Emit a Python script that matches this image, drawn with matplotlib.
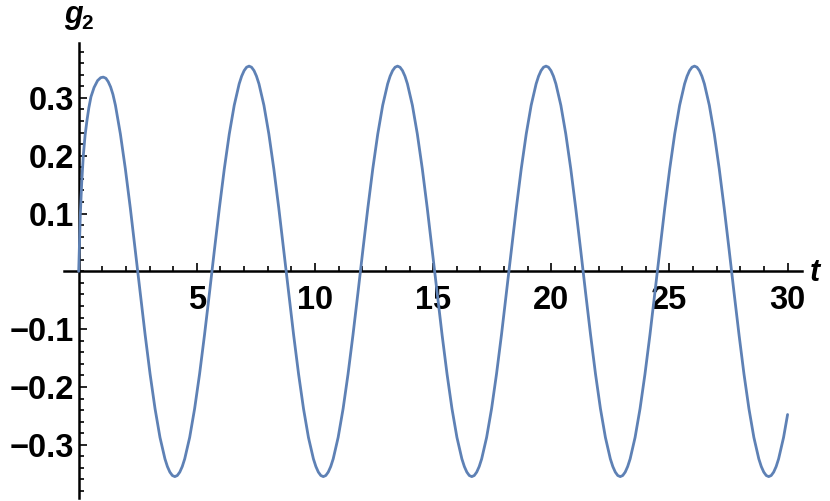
import matplotlib
matplotlib.use('Agg')
import matplotlib.pyplot as plt
from matplotlib.ticker import MultipleLocator

# g2(t) (t, value); denser near the peaks
t_vals = [0.0, 0.035, 0.07, 0.13, 0.195, 0.27, 0.35, 0.43, 0.52, 0.65, 0.80, 0.93, 1.04, 1.15, 1.25, 1.35, 1.45,
          1.555, 1.765, 1.974, 2.184, 2.393, 2.603, 2.812, 3.021, 3.231, 3.440, 3.650,
          3.754, 3.859, 3.964, 4.069, 4.173, 4.278, 4.383,
          4.487, 4.697, 4.906, 5.116, 5.325, 5.535, 5.744, 5.954, 6.163, 6.372, 6.582, 6.791,
          6.896, 7.001, 7.105, 7.210, 7.315, 7.420, 7.524,
          7.629, 7.839, 8.048, 8.257, 8.467, 8.676, 8.886, 9.095, 9.305, 9.514, 9.723, 9.933,
          10.038, 10.142, 10.247, 10.352, 10.457, 10.561, 10.666,
          10.771, 10.980, 11.190, 11.399, 11.608, 11.818, 12.027, 12.237, 12.446, 12.656, 12.865, 13.075,
          13.179, 13.284, 13.389, 13.493, 13.598, 13.703, 13.808,
          13.912, 14.122, 14.331, 14.541, 14.750, 14.959, 15.169, 15.378, 15.588, 15.797, 16.007, 16.216,
          16.321, 16.426, 16.530, 16.635, 16.740, 16.844, 16.949,
          17.054, 17.263, 17.473, 17.682, 17.892, 18.101, 18.310, 18.520, 18.729, 18.939, 19.148, 19.358,
          19.462, 19.567, 19.672, 19.777, 19.881, 19.986, 20.091,
          20.195, 20.405, 20.614, 20.824, 21.033, 21.243, 21.452, 21.662, 21.871, 22.080, 22.290, 22.499,
          22.604, 22.709, 22.813, 22.918, 23.023, 23.128, 23.232,
          23.337, 23.546, 23.756, 23.965, 24.175, 24.384, 24.594, 24.803, 25.013, 25.222, 25.431, 25.641,
          25.746, 25.850, 25.955, 26.060, 26.164, 26.269, 26.374,
          26.479, 26.688, 26.898, 27.107, 27.316, 27.526, 27.735, 27.945, 28.154, 28.364, 28.573, 28.782,
          28.887, 28.992, 29.097, 29.201, 29.306, 29.411, 29.516,
          29.620, 29.830, 30.0]

g2_vals = [0.0, 0.05, 0.10, 0.155, 0.20, 0.235, 0.261, 0.283, 0.302, 0.318, 0.330, 0.335, 0.336, 0.334, 0.328, 0.319, 0.306,
           0.2872, 0.2375, 0.1775, 0.1097, 0.0371, -0.0371, -0.1097, -0.1775, -0.2375, -0.2872, -0.3243,
           -0.3376, -0.3472, -0.3531, -0.355, -0.3531, -0.3472, -0.3376,
           -0.3243, -0.2872, -0.2375, -0.1775, -0.1097, -0.0371, 0.0371, 0.1097, 0.1775, 0.2375, 0.2872, 0.3243,
           0.3376, 0.3472, 0.3531, 0.355, 0.3531, 0.3472, 0.3376,
           0.3243, 0.2872, 0.2375, 0.1775, 0.1097, 0.0371, -0.0371, -0.1097, -0.1775, -0.2375, -0.2872, -0.3243,
           -0.3376, -0.3472, -0.3531, -0.355, -0.3531, -0.3472, -0.3376,
           -0.3243, -0.2872, -0.2375, -0.1775, -0.1097, -0.0371, 0.0371, 0.1097, 0.1775, 0.2375, 0.2872, 0.3243,
           0.3376, 0.3472, 0.3531, 0.355, 0.3531, 0.3472, 0.3376,
           0.3243, 0.2872, 0.2375, 0.1775, 0.1097, 0.0371, -0.0371, -0.1097, -0.1775, -0.2375, -0.2872, -0.3243,
           -0.3376, -0.3472, -0.3531, -0.355, -0.3531, -0.3472, -0.3376,
           -0.3243, -0.2872, -0.2375, -0.1775, -0.1097, -0.0371, 0.0371, 0.1097, 0.1775, 0.2375, 0.2872, 0.3243,
           0.3376, 0.3472, 0.3531, 0.355, 0.3531, 0.3472, 0.3376,
           0.3243, 0.2872, 0.2375, 0.1775, 0.1097, 0.0371, -0.0371, -0.1097, -0.1775, -0.2375, -0.2872, -0.3243,
           -0.3376, -0.3472, -0.3531, -0.355, -0.3531, -0.3472, -0.3376,
           -0.3243, -0.2872, -0.2375, -0.1775, -0.1097, -0.0371, 0.0371, 0.1097, 0.1775, 0.2375, 0.2872, 0.3243,
           0.3376, 0.3472, 0.3531, 0.355, 0.3531, 0.3472, 0.3376,
           0.3243, 0.2872, 0.2375, 0.1775, 0.1097, 0.0371, -0.0371, -0.1097, -0.1775, -0.2375, -0.2872, -0.3243,
           -0.3376, -0.3472, -0.3531, -0.355, -0.3531, -0.3472, -0.3376,
           -0.3243, -0.2872, -0.2476]

x_ticks = [5, 10, 15, 20, 25, 30]
x_tick_labels = ['5', '10', '15', '20', '25', '30']
y_ticks = [-0.3, -0.2, -0.1, 0.1, 0.2, 0.3]
y_tick_labels = ['\u22120.3', '\u22120.2', '\u22120.1', '0.1', '0.2', '0.3']

line_color = '#5E81B5'
font = 'Liberation Sans'

fig = plt.figure(figsize=(8.3, 5.01), dpi=100)
ax = fig.add_axes([0.0771, 0.006, 0.9659 - 0.0771, 0.9136 - 0.006])

ax.plot(t_vals, g2_vals, color=line_color, lw=2.0, solid_joinstyle='round', solid_capstyle='round', zorder=3)

ax.set_xlim(-0.622, 30.597)
ax.set_ylim(-0.392, 0.3945)

# axes through the origin, mathematica style
for side in ['top', 'right']:
    ax.spines[side].set_visible(False)
ax.spines['left'].set_position(('data', 0))
ax.spines['bottom'].set_position(('data', 0))
for side in ['left', 'bottom']:
    ax.spines[side].set_linewidth(1.8)
    ax.spines[side].set_zorder(2)

ax.set_xticks(x_ticks)
ax.set_xticklabels(x_tick_labels)
ax.set_yticks(y_ticks)
ax.set_yticklabels(y_tick_labels)
ax.xaxis.set_minor_locator(MultipleLocator(1))
ax.yaxis.set_minor_locator(MultipleLocator(0.02))

ax.tick_params(which='both', direction='in', width=1.2)
ax.tick_params(which='major', length=5.8)
ax.tick_params(which='minor', length=3.4)
ax.tick_params(axis='x', which='major', pad=9.5)
ax.tick_params(axis='y', which='major', pad=3.5)
for lab in ax.get_xticklabels() + ax.get_yticklabels():
    lab.set_fontfamily(font)
    lab.set_fontweight('bold')
    lab.set_fontsize(23.5)

# axis labels
ax.annotate('t', xy=(1.0, 0), xycoords=('axes fraction', 'data'), xytext=(5.5, -1), textcoords='offset points',
            ha='left', va='center', fontsize=22, fontweight='bold', fontstyle='italic', family=font)
ax.annotate('g', xy=(0, 1.0), xycoords=('data', 'axes fraction'), xytext=(3.2, 14.6), textcoords='offset points',
            ha='right', va='baseline', fontsize=22, fontweight='bold', fontstyle='italic', family=font)
ax.annotate('2', xy=(0, 1.0), xycoords=('data', 'axes fraction'), xytext=(2.2, 10.5), textcoords='offset points',
            ha='left', va='baseline', fontsize=15, fontweight='bold', family=font)

fig.savefig('out.png', dpi=100)
